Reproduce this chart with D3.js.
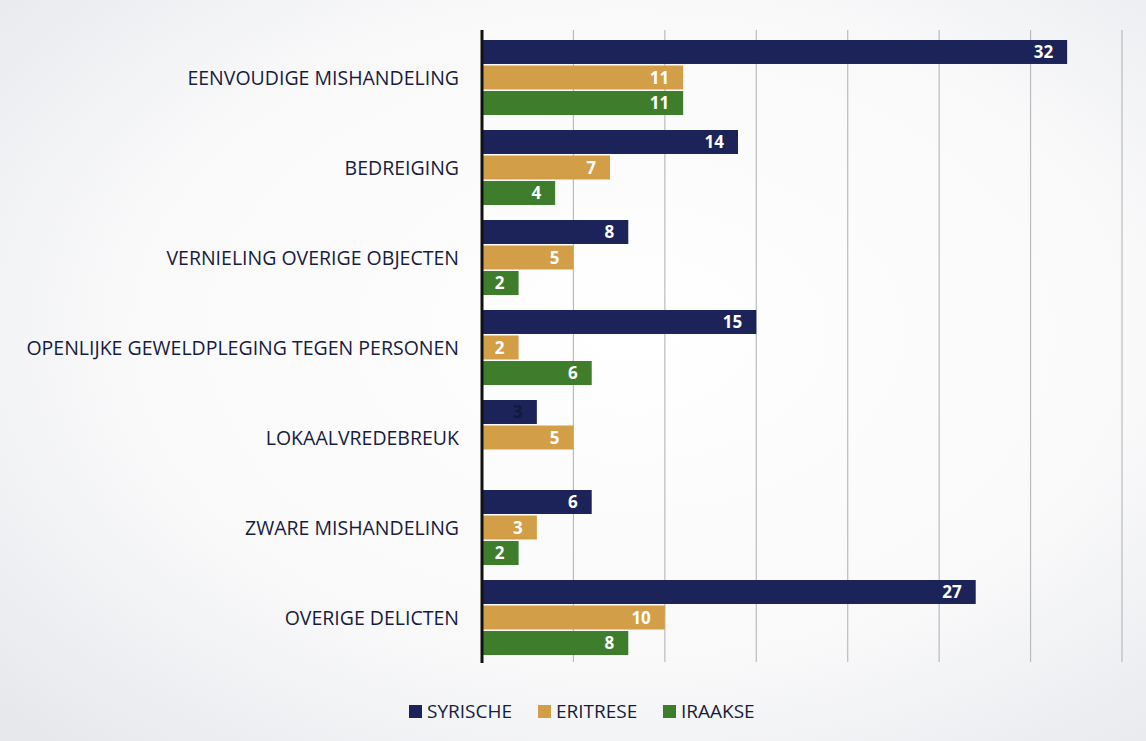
<!DOCTYPE html>
<html><head><meta charset="utf-8">
<script src="https://cdn.jsdelivr.net/npm/d3@7"></script>
<style>html,body{margin:0;padding:0;background:#fff}</style>
</head><body>
<script>
const categories = ["EENVOUDIGE MISHANDELING","BEDREIGING","VERNIELING OVERIGE OBJECTEN","OPENLIJKE GEWELDPLEGING TEGEN PERSONEN","LOKAALVREDEBREUK","ZWARE MISHANDELING","OVERIGE DELICTEN"];
const seriesNames = ["SYRISCHE","ERITRESE","IRAAKSE"];
const syrische = [32,14,8,15,3,6,27];
const eritrese = [11,7,5,2,5,3,10];
const iraakse  = [11,4,2,6,null,2,8];
const xTicks = [0,5,10,15,20,25,30,35];
const colors = ["#1b2359","#d29e48","#3e7d2b"];
const labelColors = ["#ffffff","#ffffff","#ffffff"];

const W=1146,H=741;
const svg=d3.select("body").append("svg").attr("width",W).attr("height",H);
const defs=svg.append("defs");
const rg=defs.append("radialGradient").attr("id","bg").attr("cx","55%").attr("cy","45%").attr("r","75%");
rg.append("stop").attr("offset","0%").attr("stop-color","#ffffff");
rg.append("stop").attr("offset","60%").attr("stop-color","#f9f9fa");
rg.append("stop").attr("offset","100%").attr("stop-color","#e6e8ec");
svg.append("rect").attr("width",W).attr("height",H).attr("fill","url(#bg)");

const x=d3.scaleLinear().domain([0,35]).range([482,1122]);
const y=d3.scaleBand().domain(categories).range([32.5,662.5]).paddingInner(0.1667).paddingOuter(0.0833);
const sub=d3.scaleBand().domain(seriesNames).range([0,y.bandwidth()]).paddingInner(0.06);

const font="'Open Sans', 'DejaVu Sans', sans-serif";

// gridlines
svg.append("g").selectAll("line").data(xTicks.slice(1)).join("line")
  .attr("x1",d=>x(d)).attr("x2",d=>x(d)).attr("y1",30).attr("y2",662)
  .attr("stroke","#b9bbc0").attr("stroke-width",1.2);

const data=[syrische,eritrese,iraakse];
const g=svg.append("g");
categories.forEach((c,i)=>{
  seriesNames.forEach((s,j)=>{
    const v=data[j][i];
    if(v==null) return;
    const y0=y(c)+sub(s);
    g.append("rect").attr("x",x(0)).attr("y",y0).attr("width",x(v)-x(0)).attr("height",sub.bandwidth()).attr("fill",colors[j]);
    g.append("text").attr("x",x(v)-14).attr("y",y0+sub.bandwidth()/2).attr("dy","0.36em")
      .attr("text-anchor","end").attr("font-family",font).attr("font-weight","bold").attr("font-size",17)
      .attr("fill", (j===0 && v<5) ? "#14183a" : labelColors[j]).text(v);
  });
  svg.append("text").attr("x",459).attr("y",y(c)+y.bandwidth()/2).attr("dy","0.36em")
    .attr("text-anchor","end").attr("font-family",font).attr("font-size",19.5).attr("font-weight",500).attr("fill","#171c40").text(c);
});

// axis line
svg.append("line").attr("x1",x(0)).attr("x2",x(0)).attr("y1",30).attr("y2",663).attr("stroke","#111").attr("stroke-width",3);

// legend
const legX=[409,538,663];
const lg=svg.append("g");
seriesNames.forEach((s,j)=>{
  lg.append("rect").attr("x",legX[j]).attr("y",705).attr("width",13).attr("height",13).attr("fill",colors[j]);
  lg.append("text").attr("x",legX[j]+18).attr("y",711.5).attr("dy","0.36em").attr("font-family",font).attr("font-size",19).attr("font-weight",500).attr("fill","#171c40").text(s);
});
</script>
</body></html>
